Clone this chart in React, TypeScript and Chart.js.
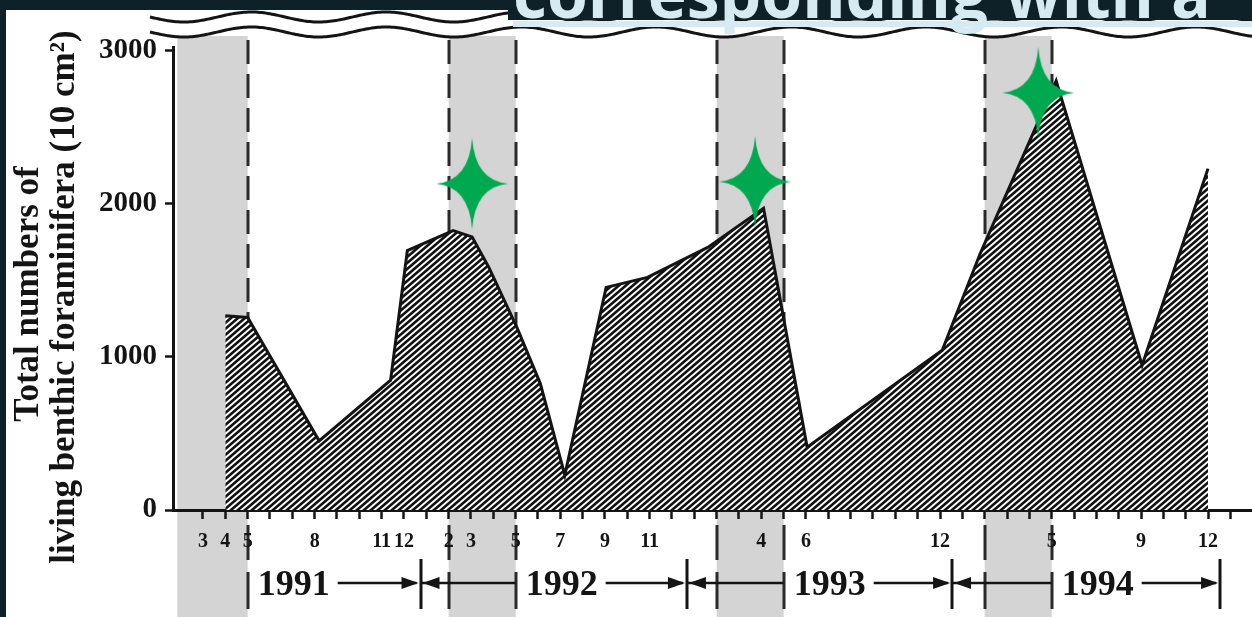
import React, { useEffect, useRef } from 'react';
import { Chart, registerables } from 'chart.js';

Chart.register(...registerables);

// Sampling dates as month numbers counted from January 1991 = 1
const sampleMonths = [4, 5, 8.2, 11.4, 12.15, 14.2, 15.05, 15.8, 17.05, 18.1, 19.2, 21.05, 22.9, 25.6, 28.1, 30.05, 36.1, 37.8, 41.2, 45.05, 48];
// Total numbers of living benthic foraminifera (per 10 cm²)
const foraminiferaTotals = [1270, 1258, 452, 848, 1695, 1826, 1785, 1585, 1195, 828, 228, 1455, 1520, 1716, 1972, 411, 1044, 1676, 2805, 946, 2231];

const yTickValues = [0, 1000, 2000, 3000];
const xTickMonths = Array.from({ length: 47 }, (_, i) => i + 3);
const monthLabelPositions = [3, 4, 5, 8, 11, 12, 14, 15, 17, 19, 21, 23, 28, 30, 36, 41, 45, 48];
const monthLabels = ['3', '4', '5', '8', '11', '12', '2', '3', '5', '7', '9', '11', '4', '6', '12', '5', '9', '12'];

// Shaded spring periods (month numbers)
const springStart = [1.85, 14, 26, 38];
const springEnd = [5, 17, 29, 41];
const dashedEdges = [5, 14, 17, 26, 29, 38, 41];

const years = ['1991', '1992', '1993', '1994'];
const yearBounds = [5, 12.74, 24.67, 36.54, 48.54];

// Green star markers
const starMonths = [15.05, 27.72, 40.4];
const starValues = [2133, 2146, 2727];

const yTitleLines = ['Total numbers of', 'living benthic foraminifera (10 cm²)'];
const overlayTitle = 'corresponding with a';

const INK = '#141414';

const decorPlugin = {
  id: 'decor',
  beforeDraw(chart: any) {
    const { ctx, width, height } = chart;
    const x = chart.scales.x;
    ctx.save();
    ctx.fillStyle = '#ffffff';
    ctx.fillRect(0, 0, width, height);
    // shaded bands
    ctx.fillStyle = '#d4d4d4';
    springStart.forEach((s, i) => {
      const x1 = x.getPixelForValue(s);
      const x2 = x.getPixelForValue(springEnd[i]);
      ctx.fillRect(x1, 36, x2 - x1, height - 36);
    });
    // dashed lines
    ctx.strokeStyle = '#2a2a2a';
    ctx.lineWidth = 3;
    ctx.setLineDash([24, 10]);
    dashedEdges.forEach((m) => {
      const px = Math.round(x.getPixelForValue(m));
      ctx.beginPath();
      ctx.moveTo(px, 40);
      ctx.lineTo(px, 510);
      ctx.stroke();
    });
    ctx.setLineDash([]);
    dashedEdges.forEach((m) => {
      const px = Math.round(x.getPixelForValue(m));
      ctx.beginPath();
      ctx.moveTo(px, 525);
      ctx.lineTo(px, 560);
      ctx.moveTo(px, 572);
      ctx.lineTo(px, 609);
      ctx.stroke();
    });
    ctx.restore();
  },
  afterDraw(chart: any) {
    const { ctx } = chart;
    const x = chart.scales.x;
    const X = (v: number) => x.getPixelForValue(v);
    ctx.save();
    // year row
    const yr = 583;
    ctx.strokeStyle = INK;
    ctx.fillStyle = INK;
    ctx.font = 'bold 36px "Liberation Serif"';
    ctx.textBaseline = 'alphabetic';
    ctx.textAlign = 'left';
    const hline = (a: number, b: number) => {
      ctx.lineWidth = 2.5;
      ctx.beginPath();
      ctx.moveTo(a, yr);
      ctx.lineTo(b, yr);
      ctx.stroke();
    };
    const vbar = (px: number, y1: number, y2: number) => {
      ctx.lineWidth = 3;
      ctx.beginPath();
      ctx.moveTo(px, y1);
      ctx.lineTo(px, y2);
      ctx.stroke();
    };
    const arrowR = (tip: number) => {
      ctx.beginPath();
      ctx.moveTo(tip, yr);
      ctx.lineTo(tip - 17, yr - 6);
      ctx.lineTo(tip - 17, yr + 6);
      ctx.closePath();
      ctx.fill();
    };
    const arrowL = (tip: number) => {
      ctx.beginPath();
      ctx.moveTo(tip, yr);
      ctx.lineTo(tip + 17, yr - 6);
      ctx.lineTo(tip + 17, yr + 6);
      ctx.closePath();
      ctx.fill();
    };
    years.forEach((label, i) => {
      const start = X(yearBounds[i]);
      const end = X(yearBounds[i + 1]);
      let cursor = start;
      if (i > 0) {
        arrowL(start + 2);
        const be = X(springEnd[i]);
        hline(start, be);
        cursor = be;
      }
      const tx = cursor + 10;
      ctx.fillText(label, tx, yr + 12);
      const tw = ctx.measureText(label).width;
      hline(tx + tw + 8, end - 4);
      arrowR(end - 2);
      vbar(Math.round(end), 559, 609);
    });

    // axis break wavy lines
    ctx.strokeStyle = INK;
    ctx.lineWidth = 3;
    [17, 32].forEach((c) => {
      ctx.beginPath();
      for (let px = 150; px <= 1252; px += 2) {
        const py = c + 5 * Math.sin(((px - 150) / 135) * 2 * Math.PI);
        if (px === 150) ctx.moveTo(px, py);
        else ctx.lineTo(px, py);
      }
      ctx.stroke();
    });

    // y axis title
    ctx.fillStyle = INK;
    ctx.font = 'bold 35px "Liberation Serif"';
    ctx.textAlign = 'center';
    ctx.textBaseline = 'alphabetic';
    [[38, 294], [74, 297]].forEach(([bx, cy], i) => {
      ctx.save();
      ctx.translate(bx, cy);
      ctx.rotate(-Math.PI / 2);
      ctx.fillText(yTitleLines[i], 0, 0);
      ctx.restore();
    });

    // dark slide frame and overlay heading
    ctx.fillStyle = '#0f2128';
    ctx.fillRect(0, 0, 1252, 10);
    ctx.fillRect(0, 0, 6, 617);
    ctx.fillRect(508, 0, 744, 20);
    ctx.fillStyle = '#d6eaf1';
    ctx.font = 'bold 66px "Open Sans"';
    ctx.textAlign = 'left';
    ctx.fillText(overlayTitle, 513, 18);
    ctx.fillRect(513, 21, 739, 6);
    ctx.restore();
  },
};

export default function App() {
  const canvasRef = useRef<HTMLCanvasElement | null>(null);

  useEffect(() => {
    const canvas = canvasRef.current;
    if (!canvas) return;
    const ctx = canvas.getContext('2d')!;

    // diagonal hatch pattern
    const tile = document.createElement('canvas');
    tile.width = 7;
    tile.height = 6;
    const t = tile.getContext('2d')!;
    t.fillStyle = '#ffffff';
    t.fillRect(0, 0, 7, 6);
    t.strokeStyle = '#111111';
    t.lineWidth = 2.6;
    [-7, 0, 7].forEach((a) => {
      t.beginPath();
      t.moveTo(a - 7, 12);
      t.lineTo(a + 14, -6);
      t.stroke();
    });
    const hatch = ctx.createPattern(tile, 'repeat');

    // four-pointed star marker
    const star = document.createElement('canvas');
    star.width = 76;
    star.height = 96;
    const s = star.getContext('2d')!;
    const cx = 38, cy = 48, rh = 36, rv = 46, k = 3;
    s.fillStyle = '#00a94f';
    s.beginPath();
    s.moveTo(cx, cy - rv);
    s.quadraticCurveTo(cx + k, cy - k, cx + rh, cy);
    s.quadraticCurveTo(cx + k, cy + k, cx, cy + rv);
    s.quadraticCurveTo(cx - k, cy + k, cx - rh, cy);
    s.quadraticCurveTo(cx - k, cy - k, cx, cy - rv);
    s.fill();

    const chart = new Chart(ctx, {
      type: 'line',
      data: {
        datasets: [
          {
            label: 'stars',
            data: starMonths.map((m, i) => ({ x: m, y: starValues[i] })),
            showLine: false,
            pointStyle: star as any,
            pointRadius: 6,
            order: 0,
            clip: false as any,
          },
          {
            label: 'Total numbers of living benthic foraminifera',
            data: sampleMonths.map((m, i) => ({ x: m, y: foraminiferaTotals[i] })),
            borderColor: INK,
            borderWidth: 3,
            backgroundColor: hatch as any,
            fill: 'origin',
            pointRadius: 0,
            tension: 0,
            order: 1,
          },
        ],
      },
      options: {
        animation: false,
        responsive: false,
        maintainAspectRatio: false,
        layout: { autoPadding: false, padding: { top: 47, left: 0, right: 0, bottom: 0 } },
        plugins: {
          legend: { display: false },
          tooltip: { enabled: false },
        },
        scales: {
          x: {
            type: 'linear',
            min: 1.657,
            max: 49.97,
            afterBuildTicks: (sc: any) => {
              sc.ticks = xTickMonths.map((v) => ({ value: v }));
            },
            afterFit: (sc: any) => {
              sc.height = 107;
              sc.paddingLeft = 0;
              sc.paddingRight = 0;
            },
            ticks: {
              autoSkip: false,
              maxRotation: 0,
              minRotation: 0,
              padding: 11,
              color: INK,
              font: { family: 'Liberation Serif', weight: 'bold', size: 20 },
              callback: (v: any) => {
                const idx = monthLabelPositions.indexOf(Number(v));
                return idx >= 0 ? monthLabels[idx] : '';
              },
            },
            grid: { drawOnChartArea: false, drawTicks: true, tickLength: 9, tickWidth: 2.5, color: INK },
            border: { display: true, color: INK, width: 3 },
          },
          y: {
            min: 0,
            max: 3026,
            afterBuildTicks: (sc: any) => {
              sc.ticks = yTickValues.map((v) => ({ value: v }));
            },
            afterFit: (sc: any) => {
              sc.width = 173;
              sc.paddingTop = 0;
              sc.paddingBottom = 0;
            },
            ticks: {
              padding: 8,
              color: INK,
              font: { family: 'Liberation Serif', weight: 'bold', size: 29 },
              callback: (v: any) => String(v),
            },
            grid: { drawOnChartArea: false, drawTicks: true, tickLength: 8, tickWidth: 2.5, color: INK },
            border: { display: true, color: INK, width: 3 },
          },
        },
      },
      plugins: [decorPlugin],
    });

    return () => chart.destroy();
  }, []);

  return (
    <div style={{ position: 'fixed', left: 0, top: 0, width: 1252, height: 617 }}>
      <canvas ref={canvasRef} width={1252} height={617} style={{ display: 'block' }} />
    </div>
  );
}
